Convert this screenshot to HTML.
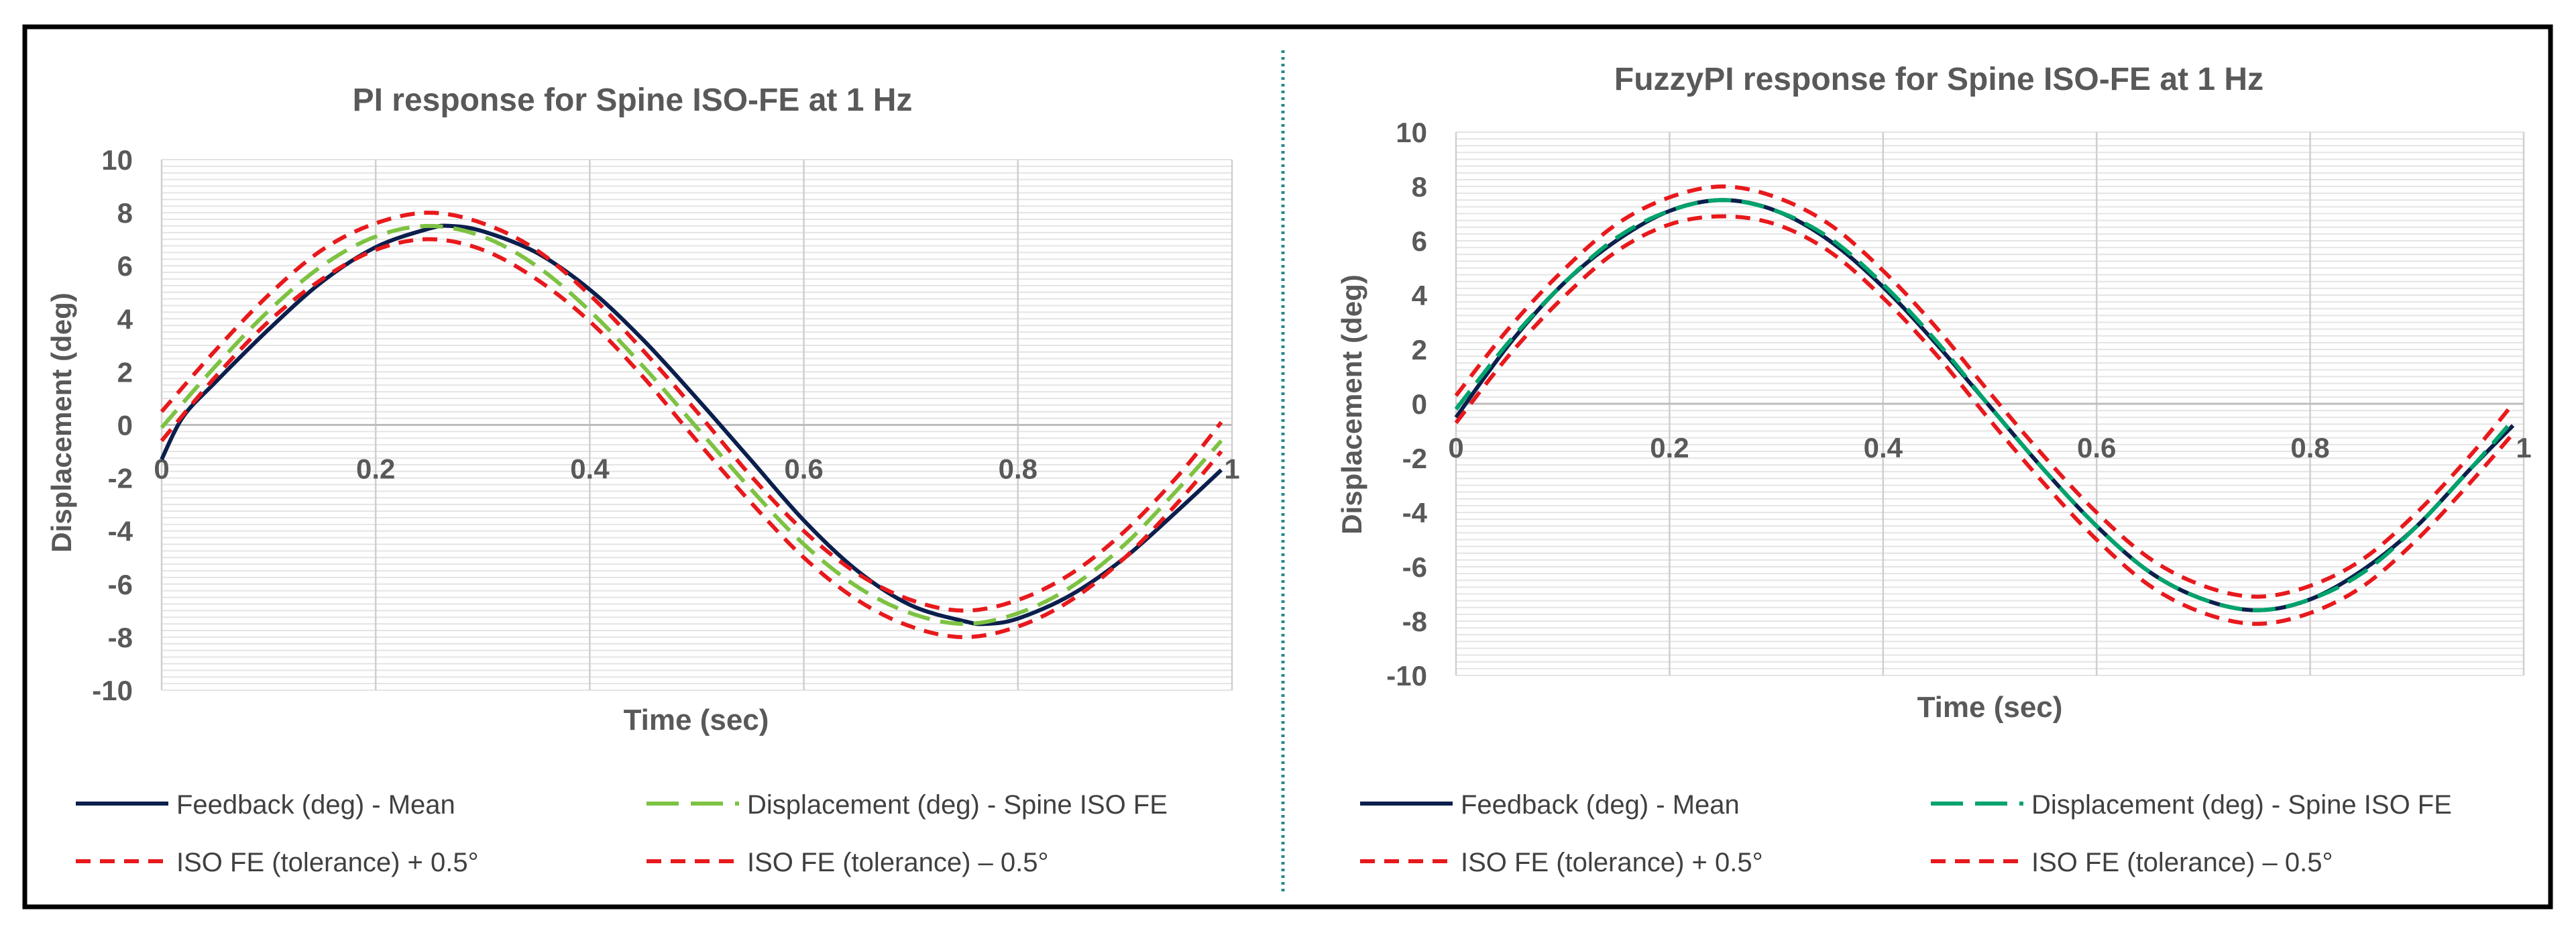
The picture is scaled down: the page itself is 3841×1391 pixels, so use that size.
<!DOCTYPE html>
<html><head><meta charset="utf-8"><style>
html,body{margin:0;padding:0;background:#fff;}
svg{display:block;font-family:"Liberation Sans",sans-serif;}
</style></head><body>
<svg id="fig" width="3841" height="1391" viewBox="0 0 3841 1391">
<rect x="37" y="40" width="3766" height="1312" fill="#fff" stroke="#000" stroke-width="7"/>
<line x1="1913" y1="75" x2="1913" y2="1335" stroke="#2a8a8c" stroke-width="5" stroke-dasharray="4 6"/>
</svg>
<script>
const timeL = [0,0.02,0.05,0.1,0.15,0.2,0.25,0.27,0.3,0.35,0.4,0.45,0.5,0.55,0.6,0.65,0.7,0.75,0.77,0.8,0.85,0.9,0.95,0.99];
const feedbackL = [-1.3,0.3,1.6,3.6,5.4,6.7,7.4,7.5,7.3,6.5,5.1,3.2,1.0,-1.3,-3.6,-5.5,-6.8,-7.4,-7.5,-7.3,-6.4,-5.0,-3.2,-1.7];
const timeS = [0,0.05,0.1,0.15,0.2,0.25,0.3,0.35,0.4,0.45,0.5,0.55,0.6,0.65,0.7,0.75,0.8,0.85,0.9,0.95,0.99];
const setpointL = [-0.1,2.2,4.3,6.0,7.1,7.5,7.1,6.0,4.3,2.2,-0.1,-2.4,-4.5,-6.1,-7.1,-7.5,-7.1,-6.1,-4.5,-2.4,-0.6];
const upperL = [0.5,2.8,4.9,6.6,7.6,8.0,7.6,6.6,4.9,2.8,0.5,-1.9,-4.0,-5.6,-6.6,-7.0,-6.6,-5.6,-4.0,-1.9,0.1];
const lowerL = [-0.6,1.8,3.9,5.5,6.6,7.0,6.6,5.5,3.9,1.8,-0.6,-2.9,-5.0,-6.6,-7.6,-8.0,-7.6,-6.6,-5.0,-2.9,-1.0];
const feedbackR = [-0.5,2.2,4.4,6.0,7.1,7.5,7.1,6.0,4.3,2.2,-0.1,-2.4,-4.5,-6.2,-7.2,-7.6,-7.2,-6.1,-4.5,-2.4,-0.8];
const setpointR = [-0.2,2.3,4.4,6.1,7.1,7.5,7.1,6.1,4.4,2.3,-0.1,-2.4,-4.5,-6.2,-7.2,-7.6,-7.2,-6.2,-4.5,-2.4,-0.6];
const upperR = [0.3,2.8,4.9,6.6,7.6,8.0,7.6,6.6,4.9,2.8,0.4,-1.9,-4.0,-5.7,-6.7,-7.1,-6.7,-5.7,-4.0,-1.9,0.0];
const lowerR = [-0.7,1.8,3.9,5.6,6.6,6.9,6.6,5.6,3.9,1.8,-0.6,-2.9,-5.0,-6.7,-7.7,-8.1,-7.7,-6.7,-5.0,-2.9,-1.1];
const yTicks = [10,8,6,4,2,0,-2,-4,-6,-8,-10];
const xTicks = [0,0.2,0.4,0.6,0.8,1];
const xTickLabels = ["0","0.2","0.4","0.6","0.8","1"];

const NS = "http://www.w3.org/2000/svg";
const svg = document.getElementById("fig");
function mk(tag, attrs, parent, txt){
  const e = document.createElementNS(NS, tag);
  for (const k in attrs) e.setAttribute(k, attrs[k]);
  if (txt !== undefined) e.textContent = txt;
  (parent || svg).appendChild(e);
  return e;
}

function chart(cfg){
  const g = mk("g", {});
  
  
  const X = v => cfg.x0 + (cfg.x1 - cfg.x0) * v;
  const Y = v => cfg.y0 + (cfg.y1 - cfg.y0) * (10 - v) / 20;
  for (let v = -10; v <= 10.001; v += 0.25) {
    const l = mk("line", {x1: X(0), x2: X(1), y1: Y(v), y2: Y(v), stroke: "#e4e4e4", "stroke-width": 2}, g);
    
    
  }
  xTicks.forEach(t => {
    const l = mk("line", {x1: X(t), x2: X(t), y1: Y(10), y2: Y(-10), stroke: "#cfcfcf", "stroke-width": 2.5}, g);
    
    
  });
  const zl = mk("line", {x1: X(0), x2: X(1), y1: Y(0), y2: Y(0), stroke: "#bdbdbd", "stroke-width": 3}, g);
  
  
  yTicks.forEach(v => {
    const t = mk("text", {x: cfg.yLabX, y: Y(v) + 15, "text-anchor": "end", "font-size": 42, "font-weight": "bold", fill: "#595959"}, g, String(v));
    
    
  });
  xTicks.forEach((v, i) => {
    const t = mk("text", {x: X(v), y: Y(0) + 80, "text-anchor": "middle", "font-size": 42, "font-weight": "bold", fill: "#595959"}, g, xTickLabels[i]);
    
    
  });
  const path = (xs, ys, color, w, dash, nm) => {
    const P = xs.map((x, i) => [X(x), Y(ys[i])]);
    let d = "M" + P[0][0].toFixed(1) + "," + P[0][1].toFixed(1);
    for (let i = 0; i < P.length - 1; i++) {
      const p0 = P[Math.max(i - 1, 0)], p1 = P[i], p2 = P[i + 1], p3 = P[Math.min(i + 2, P.length - 1)];
      const c1 = [p1[0] + (p2[0] - p0[0]) / 6, p1[1] + (p2[1] - p0[1]) / 6];
      const c2 = [p2[0] - (p3[0] - p1[0]) / 6, p2[1] - (p3[1] - p1[1]) / 6];
      d += " C" + c1[0].toFixed(1) + "," + c1[1].toFixed(1) + " " + c2[0].toFixed(1) + "," + c2[1].toFixed(1) + " " + p2[0].toFixed(1) + "," + p2[1].toFixed(1);
    }
    const p = mk("path", {d: d, fill: "none", stroke: color, "stroke-width": w, "stroke-dasharray": dash, "stroke-linejoin": "round"}, g);
    
    
  };
  path(cfg.tf, cfg.fb, "#0b1f4d", 6, "none", "feedback-line");
  path(timeS, cfg.sp, cfg.green, 6, "34 16", "setpoint-line");
  path(timeS, cfg.up, "#e8191c", 6, "22 14", "upper-tolerance-line");
  path(timeS, cfg.lo, "#e8191c", 6, "22 14", "lower-tolerance-line");
  const ti = mk("text", {x: cfg.titleX, y: cfg.titleY, "text-anchor": "middle", "font-size": 48, "font-weight": "bold", fill: "#595959"}, g, cfg.title);
  
  
  const yt = mk("text", {x: 0, y: 0, transform: "translate(" + cfg.yTitleX + "," + cfg.yTitleY + ") rotate(-90)", "text-anchor": "middle", "font-size": 42, "font-weight": "bold", fill: "#595959"}, g, "Displacement (deg)");
  
  
  const xt = mk("text", {x: cfg.xTitleX, y: cfg.xTitleY, "text-anchor": "middle", "font-size": 44, "font-weight": "bold", fill: "#595959"}, g, "Time (sec)");
  
  
  const leg = [
    [cfg.lx1, 1198, "#0b1f4d", "none", "Feedback (deg) - Mean"],
    [cfg.lx2, 1198, cfg.green, "48 18", "Displacement (deg) - Spine ISO FE"],
    [cfg.lx1, 1284, "#e8191c", "22 14", "ISO FE (tolerance) + 0.5°"],
    [cfg.lx2, 1284, "#e8191c", "22 14", "ISO FE (tolerance) – 0.5°"]
  ];
  leg.forEach(e => {
    const lg = mk("g", {}, g);
    
    
    mk("line", {x1: e[0], x2: e[0] + 138, y1: e[1], y2: e[1], stroke: e[2], "stroke-width": 6, "stroke-dasharray": e[3]}, lg);
    mk("text", {x: e[0] + 150, y: e[1] + 15, "font-size": 40, fill: "#404040"}, lg, e[4]);
  });
}

chart({name: "pi-chart", x0: 241, x1: 1837, y0: 238, y1: 1029, yLabX: 198, titleX: 943, titleY: 165,
  yTitleX: 106, yTitleY: 630, xTitleX: 1038, xTitleY: 1088, lx1: 113, lx2: 964,
  tf: timeL, fb: feedbackL, sp: setpointL, up: upperL, lo: lowerL, green: "#7dc242",
  title: "PI response for Spine ISO-FE at 1 Hz"});
chart({name: "fuzzypi-chart", x0: 2171, x1: 3763, y0: 197, y1: 1007, yLabX: 2128, titleX: 2891, titleY: 134,
  yTitleX: 2030, yTitleY: 603, xTitleX: 2967, xTitleY: 1069, lx1: 2028, lx2: 2879,
  tf: timeS, fb: feedbackR, sp: setpointR, up: upperR, lo: lowerR, green: "#00a36c",
  title: "FuzzyPI response for Spine ISO-FE at 1 Hz"});
</script>
</body></html>
